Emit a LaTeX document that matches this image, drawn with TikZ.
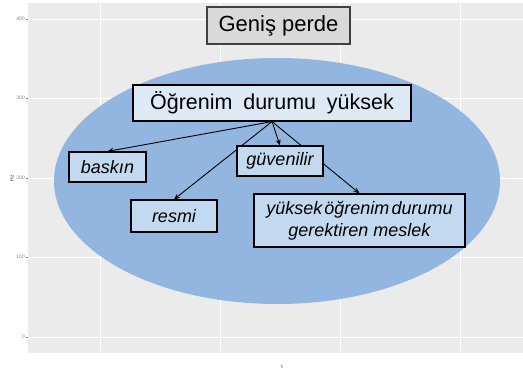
\documentclass[tikz,border=0pt]{standalone}
\usepackage{fontspec}
\setmainfont{Liberation Sans}
\usetikzlibrary{arrows.meta}
\pgfdeclarelayer{bg}
\pgfdeclarelayer{mid}
\pgfsetlayers{bg,mid,main}
\definecolor{panelbg}{HTML}{EBEBEB}
\definecolor{ellblue}{HTML}{92B6DF}
\definecolor{topfill}{HTML}{DDEAF6}
\definecolor{boxfill}{HTML}{C3D9EF}
\definecolor{titlefill}{HTML}{D9D9D9}
\definecolor{titleedge}{HTML}{404040}
\definecolor{axisgrey}{HTML}{7F7F7F}
\tikzset{
  titlebox/.style={draw=titleedge, fill=titlefill, line width=1.2pt, inner sep=0pt,
    minimum width=143pt, minimum height=37pt, font=\fontsize{22}{26}\selectfont},
  mainbox/.style={draw=black, fill=topfill, line width=1.2pt, inner sep=0pt,
    font=\fontsize{21.5}{25}\selectfont},
  subbox/.style={draw=black, fill=boxfill, line width=1.2pt, inner sep=0pt,
    font=\fontsize{18}{22}\selectfont\itshape, align=center},
  conn/.style={line width=0.9pt, -{Stealth[length=6pt,width=5pt]}},
  ticklab/.style={font=\fontsize{5}{6}\selectfont, text=axisgrey, anchor=east, inner sep=0pt},
  gridline/.style={white, line width=0.8pt}
}
\begin{document}
\begin{tikzpicture}[x=1pt,y=-1pt]
\useasboundingbox (0,0) rectangle (523,375);
\begin{pgfonlayer}{bg}
  \fill[panelbg] (28,3) rectangle (523,353);
  \foreach \yy in {19,98,178,257,337} \draw[gridline] (28,\yy) -- (523,\yy);
  \foreach \xx in {100,220,340,460} \draw[gridline] (\xx,3) -- (\xx,353);
  \foreach \yy/\lab in {19/400,98/300,178/200,257/100,337/0} {
    \draw[axisgrey, line width=0.5pt] (25.5,\yy) -- (28,\yy);
    \node[ticklab] at (25,\yy) {\lab};
  }
  \node[font=\fontsize{5}{6}\selectfont, rotate=90, text=black!80, inner sep=0pt] (hz) at (12,178) {Hz};
  \node[font=\fontsize{5}{6}\selectfont, text=black!80, inner sep=0pt] (tl) at (282,367) {t};
  \fill[ellblue] (277,181) ellipse [x radius=223, y radius=123];
\end{pgfonlayer}

\node[titlebox] (title) at (278.5,25.5) {Geniş perde};
\node[mainbox, minimum width=278pt, minimum height=36pt] (ogr) at (272,103)
  {Öğrenim\hspace{0.5em}durumu\hspace{0.5em}yüksek};
\node[subbox, minimum width=77pt, minimum height=30pt] (bask) at (107.5,167) {baskın};
\node[subbox, minimum width=86pt, minimum height=32pt] (resmi) at (174,216) {resmi};
\node[subbox, minimum width=211pt, minimum height=53pt] (yuk) at (359.5,220.5)
  {yüksek\hspace{0.12em}öğrenim\hspace{0.12em}durumu\\gerektiren meslek};
\node[subbox, minimum width=86pt, minimum height=30pt] (guv) at (280,161) {güvenilir};

\begin{pgfonlayer}{mid}
  \draw[conn] (ogr.south) -- (bask.north);
  \draw[conn] (ogr.south) -- (guv.north);
  \draw[conn] (ogr.south) -- (resmi.north);
  \draw[conn] (ogr.south) -- (yuk.north);
\end{pgfonlayer}
\end{tikzpicture}
\end{document}
